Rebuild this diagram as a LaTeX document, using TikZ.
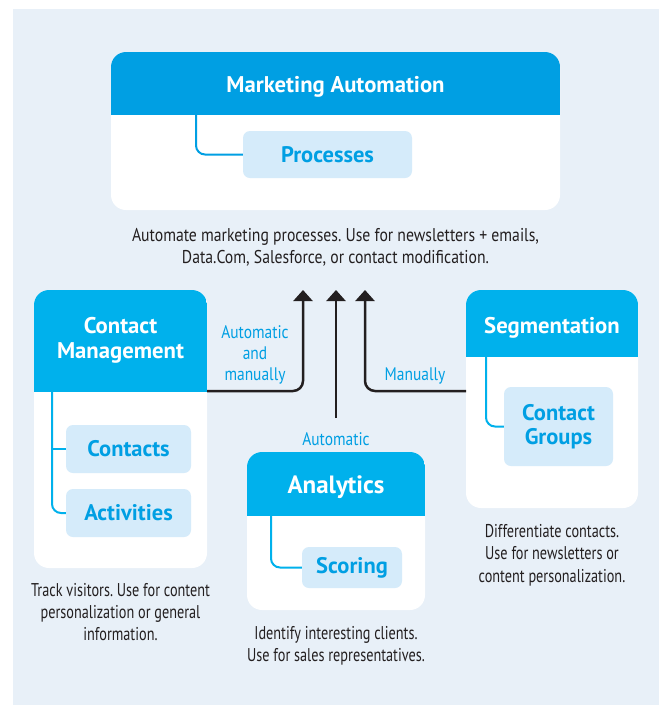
\documentclass[tikz,border=0pt]{standalone}
\usepackage{fontspec}
\setmainfont{PT Sans}
\newfontfamily\condfont[FakeStretch=0.85]{PT Sans}
\newfontfamily\narrowfont[FakeStretch=0.77]{PT Sans}
\usetikzlibrary{arrows.meta}
\definecolor{bg}{HTML}{E8F0F8}
\definecolor{headdark}{HTML}{009FE3}
\definecolor{headlight}{HTML}{00B1EC}
\definecolor{subfill}{HTML}{D5EBFA}
\definecolor{ink}{HTML}{231F20}
\frenchspacing
\tikzset{
  card/.style={fill=white, rounded corners=15pt, inner sep=0pt},
  headfill/.style 2 args={path picture={\fill[#1, sharp corners] (path picture bounding box.north west) rectangle ([yshift=-#2pt]path picture bounding box.north east);}},
  title/.style={text=white, font=\fontsize{22.7}{25}\selectfont\bfseries, align=center},
  subbox/.style={fill=subfill, rounded corners=7pt, inner sep=0pt, text=headdark, font=\fontsize{22.5}{24}\selectfont\bfseries, align=center},
  caption/.style={text=ink, font=\condfont\fontsize{18.5}{22.5}\selectfont, align=center},
  smallcap/.style={text=ink, font=\narrowfont\fontsize{18.5}{22.3}\selectfont, align=center},
  lbl/.style={text=headdark, font=\condfont\fontsize{18.2}{21}\selectfont, align=center},
  tree/.style={line width=2pt, rounded corners=9pt},
  arr/.style={draw=ink, line width=2.5pt, rounded corners=10pt, -{Triangle[width=19pt,length=11pt]}}
}
\begin{document}
\begin{tikzpicture}[x=1pt,y=-1pt]
\fill[bg] (13,9) rectangle (659,705);
\useasboundingbox (0,0) rectangle (664,705);

% Marketing Automation
\node[card, headfill={headdark}{63}, minimum width=449pt, minimum height=158pt] (ma) at (335.5,131) {};
\node[title] (mat) at (335.5,86.5) {Marketing Automation};
\node[subbox, minimum width=169pt, minimum height=47pt] (proc) at (327.5,154.5) {Processes};
\coordinate (mab) at (196,115);
\draw[tree, headdark] (mab) |- (proc.west);
\node[caption] (macap) at (335.5,247.5) {Automate marketing processes. Use for newsletters + emails,\\Data.Com, Salesforce, or contact modification.};

% Contact Management
\node[card, headfill={headlight}{102}, minimum width=173pt, minimum height=278pt] (cm) at (120.5,429) {};
\node[title] (cmt) at (120.5,340.5) {Contact\\Management};
\node[subbox, minimum width=125pt, minimum height=48pt] (cont) at (128.5,449) {Contacts};
\node[subbox, minimum width=125pt, minimum height=48pt] (act) at (128.5,513) {Activities};
\coordinate (cmb) at (52,392);
\draw[tree, headlight] (cmb) |- (act.west);
\draw[line width=2pt, headlight] (cmb |- cont.west) -- (cont.west);
\node[smallcap] (cmcap) at (120.5,612) {Track visitors. Use for content\\personalization or general\\information.};

% Analytics
\node[card, headfill={headlight}{64}, minimum width=178pt, minimum height=158pt] (an) at (336,531) {};
\node[title, font=\fontsize{25}{27}\selectfont\bfseries] (ant) at (336,487.5) {Analytics};
\node[subbox, minimum width=100pt, minimum height=41pt] (scor) at (352,567.5) {Scoring};
\coordinate (anb) at (271,516);
\draw[tree, headlight] (anb) |- (scor.west);
\node[smallcap] (ancap) at (336,646) {Identify interesting clients.\\Use for sales representatives.};

% Segmentation
\node[card, headfill={headlight}{67}, minimum width=172pt, minimum height=218pt] (sg) at (552,399) {};
\node[title] (sgt) at (552,327.5) {Segmentation};
\node[subbox, minimum width=109pt, minimum height=79pt] (cg) at (558.5,426.5) {Contact\\Groups};
\coordinate (sgb) at (486,357);
\draw[tree, headlight] (sgb) |- (cg.west);
\node[smallcap] (sgcap) at (552,555) {Differentiate contacts.\\Use for newsletters or\\content personalization.};

% Arrows
\coordinate (t1) at (303,290);
\coordinate (t2) at (336,290);
\coordinate (t3) at (365,290);
\coordinate (cmr) at (207,391);
\coordinate (sgl) at (466,391);
\coordinate (anu) at (336,418);
\draw[arr] (cmr) -| (t1);
\draw[arr] (anu) -- (t2);
\draw[arr] (sgl) -| (t3);
\node[lbl] (l1) at (255,355) {Automatic\\and\\manually};
\node[lbl] (l2) at (415,376) {Manually};
\node[lbl] (l3) at (336,439) {Automatic};
\end{tikzpicture}
\end{document}
